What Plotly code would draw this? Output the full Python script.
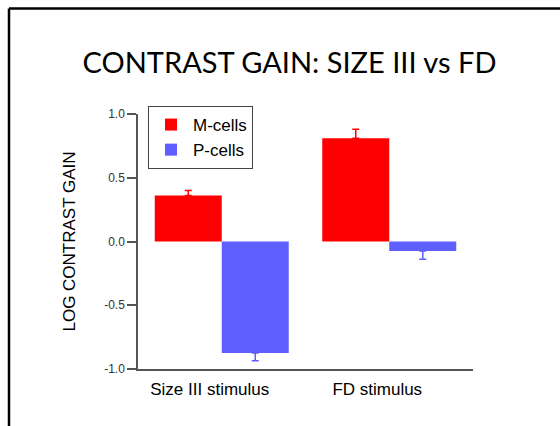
import plotly.graph_objects as go

# Log contrast gain per stimulus condition
categories = ["Size III stimulus", "FD stimulus"]
m_cells = [0.36, 0.81]
m_err = [0.04, 0.07]
p_cells = [-0.875, -0.075]
p_err = [0.06, 0.065]
y_ticks = [-1.0, -0.5, 0.0, 0.5, 1.0]
y_tick_labels = ["-1.0", "-0.5", "0.0", "0.5", "1.0"]

RED = "#ff0000"
BLUE = "#5f5fff"
AXIS = "#555555"
SANS = "Liberation Sans, Arial, sans-serif"

W, H = 560, 426
L, R, T, B = 138, 87, 114, 57
pw, ph = W - L - R, H - T - B


def px(x):
    return (x - L) / pw


def py(y):
    return (H - B - y) / ph


fig = go.Figure()
fig.add_trace(go.Bar(
    name="M-cells", x=categories, y=m_cells, marker=dict(color=RED, line=dict(width=0)),
    error_y=dict(type="data", array=m_err, arrayminus=[0, 0], color=RED,
                 thickness=1.5, width=3.5),
))
fig.add_trace(go.Bar(
    name="P-cells", x=categories, y=p_cells, marker=dict(color=BLUE, line=dict(width=0)),
    error_y=dict(type="data", array=[0, 0], arrayminus=p_err, color=BLUE,
                 thickness=1.5, width=3.5),
))

# slide frame (top and left edges)
frame = dict(type="line", xref="paper", yref="paper", line=dict(color="black", width=2.5))
fig.add_shape(**frame, x0=px(9), x1=px(9), y0=py(8.5), y1=py(440))
fig.add_shape(**frame, x0=px(9), x1=px(580), y0=py(8.5), y1=py(8.5))

fig.update_layout(
    width=W, height=H,
    margin=dict(l=L, r=R, t=T, b=B),
    paper_bgcolor="white", plot_bgcolor="white",
    barmode="group", bargap=0.2, bargroupgap=0,
    showlegend=True,
    title=dict(text="CONTRAST GAIN: SIZE III vs FD", x=289.5 / W, xanchor="center",
               y=1 - 63 / H, yanchor="middle", yref="container",
               font=dict(family="Lato, Open Sans, sans-serif", size=29, color="black")),
    legend=dict(x=px(148), y=py(106), xanchor="left", yanchor="top",
                bordercolor="#444444", borderwidth=1, bgcolor="white",
                font=dict(family=SANS, size=17, color="black"),
                tracegroupgap=0, itemsizing="constant", itemwidth=34),
    xaxis=dict(range=[-0.5, 1.5], showline=True, linecolor=AXIS, linewidth=1.5,
               ticks="", showgrid=False, zeroline=False,
               tickfont=dict(family=SANS, size=17, color="black"),
               ticklabelstandoff=4, ticklabelshift=-12),
    yaxis=dict(range=[-1, 1], tickvals=y_ticks, ticktext=y_tick_labels,
               showline=True, linecolor=AXIS, linewidth=1.5,
               ticks="outside", ticklen=9, tickcolor=AXIS, tickwidth=1.5,
               showgrid=False, zeroline=False,
               tickfont=dict(family=SANS, size=12, color="#333333"),
               title=dict(text="LOG CONTRAST GAIN", standoff=24,
                          font=dict(family=SANS, size=17, color="black"))),
)

fig.write_html("out.html")
